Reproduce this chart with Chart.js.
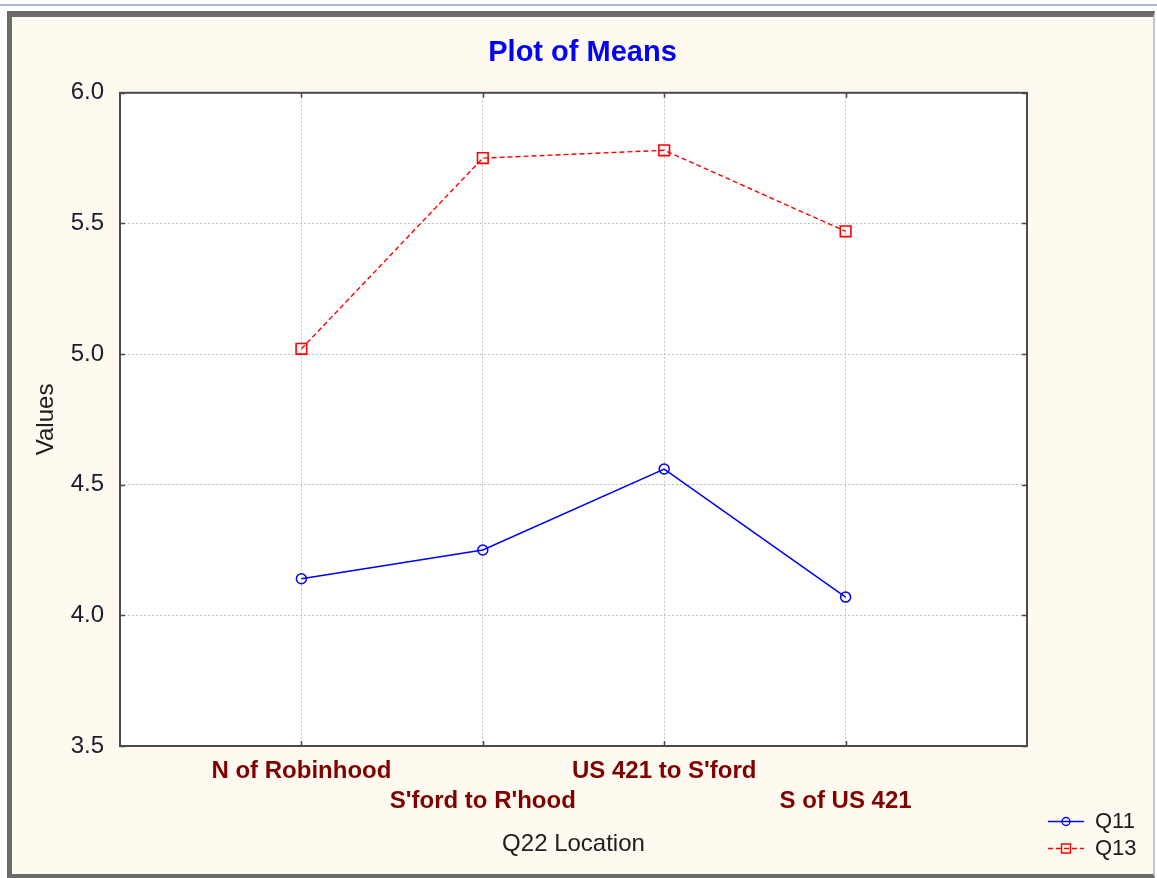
<!DOCTYPE html>
<html>
<head>
<meta charset="utf-8">
<title>Plot of Means</title>
<script src="https://cdn.jsdelivr.net/npm/chart.js@4.4.1/dist/chart.umd.min.js"></script>
<style>
  html, body { margin: 0; background: #fff; width: 1157px; height: 878px; overflow: hidden; }
  .topline { position: absolute; left: 0; top: 4px; width: 1157px; height: 2px; background: #a9b9d2; }
  .frame {
    position: absolute; left: 7px; top: 11px; width: 1141px; height: 857px;
    border-left: 5px solid #6b6b6b; border-top: 6px solid #6b6b6b;
    border-bottom: 4px solid #6b6b6b; border-right: 2px solid #c4c4c4;
    background: #fffaf0;
  }
  canvas { display: block; }
</style>
</head>
<body>
<div class="topline"></div>
<div class="frame"><canvas id="means" width="1141" height="857"></canvas></div>
<script>
// category labels and means per location
const locations = ['N of Robinhood', "S'ford to R'hood", "US 421 to S'ford", 'S of US 421'];
const q11Means = [4.14, 4.25, 4.56, 4.07];
const q13Means = [5.02, 5.75, 5.78, 5.47];
const yTicks = [3.5, 4.0, 4.5, 5.0, 5.5, 6.0];

const FONT = "'Liberation Sans', Arial, sans-serif";

// white plot box, dark frame and small inward tick marks
const plotFrame = {
  id: 'plotFrame',
  beforeDraw(chart) {
    const { ctx, chartArea: a } = chart;
    ctx.save();
    ctx.fillStyle = '#fff';
    ctx.fillRect(a.left, a.top, a.width, a.height);
    ctx.restore();
  },
  beforeDatasetsDraw(chart) {
    const { ctx, chartArea: a, scales: { x, y } } = chart;
    ctx.save();
    ctx.strokeStyle = '#4a4a4a';
    ctx.lineWidth = 2;
    ctx.strokeRect(a.left, a.top, a.width, a.height);
    ctx.lineWidth = 1.5;
    ctx.beginPath();
    x.ticks.forEach(t => {
      const px = Math.round(x.getPixelForValue(t.value)) + 0.5;
      ctx.moveTo(px, a.top); ctx.lineTo(px, a.top + 5);
      ctx.moveTo(px, a.bottom); ctx.lineTo(px, a.bottom - 5);
    });
    y.ticks.forEach(t => {
      const py = Math.round(y.getPixelForValue(t.value)) + 0.5;
      ctx.moveTo(a.left, py); ctx.lineTo(a.left + 5, py);
      ctx.moveTo(a.right, py); ctx.lineTo(a.right - 5, py);
    });
    ctx.stroke();
    ctx.restore();
  }
};

// legend stacked in the lower right corner: line sample + marker + name
const sideLegend = {
  id: 'sideLegend',
  afterDraw(chart) {
    const { ctx, chartArea: a } = chart;
    chart.data.datasets.forEach((ds, i) => {
      const y0 = a.bottom + 75 + i * 27;
      const x0 = a.right + 21, x1 = x0 + 36, xm = x0 + 18;
      ctx.save();
      ctx.strokeStyle = ds.borderColor;
      ctx.lineWidth = 1.4;
      ctx.setLineDash(ds.borderDash || []);
      ctx.beginPath();
      ctx.moveTo(x0, y0 + 0.5); ctx.lineTo(x1, y0 + 0.5);
      ctx.stroke();
      ctx.setLineDash([]);
      ctx.beginPath();
      if (ds.pointStyle === 'rect') ctx.rect(xm - 4.5, y0 - 4, 9, 9);
      else ctx.arc(xm, y0 + 0.5, 4, 0, Math.PI * 2);
      ctx.stroke();
      ctx.fillStyle = '#1a1a1a';
      ctx.font = '22px ' + FONT;
      ctx.textBaseline = 'middle';
      ctx.fillText(ds.label, a.right + 68, y0 + 1);
      ctx.restore();
    });
  }
};

const gridStyle = { color: '#c4c4c4', lineWidth: 1, drawTicks: false };
const toPoints = arr => arr.map((v, i) => ({ x: i, y: v }));

new Chart(document.getElementById('means'), {
  type: 'line',
  data: {
    datasets: [
      {
        label: 'Q11',
        data: toPoints(q11Means),
        borderColor: '#0000ff',
        borderWidth: 1.5,
        pointStyle: 'circle',
        pointRadius: 5,
        pointBorderWidth: 1.5,
        pointBorderColor: '#0000ff',
        pointBackgroundColor: 'rgba(0,0,0,0)'
      },
      {
        label: 'Q13',
        data: toPoints(q13Means),
        borderColor: '#ff0000',
        borderDash: [5, 3],
        borderWidth: 1.4,
        pointStyle: 'rect',
        pointRadius: 7.5,
        pointBorderWidth: 1.6,
        pointBorderColor: '#ff0000',
        pointBackgroundColor: 'rgba(0,0,0,0)'
      }
    ]
  },
  options: {
    responsive: false,
    animation: false,
    devicePixelRatio: 1,
    layout: { padding: 0 },
    plugins: {
      legend: { display: false },
      tooltip: { enabled: false },
      title: {
        display: true,
        text: 'Plot of Means',
        color: '#0000ff',
        font: { family: FONT, size: 29, weight: 'bold' },
        padding: { top: 19, bottom: 22 }
      }
    },
    scales: {
      x: {
        type: 'linear',
        min: -1,
        max: 4,
        afterBuildTicks(s) { s.ticks = locations.map((_, i) => ({ value: i })); },
        afterFit(s) { s.height = 128; },
        grid: gridStyle,
        border: { display: false, dash: [2, 2] },
        ticks: {
          padding: 10,
          autoSkip: false,
          maxRotation: 0,
          color: '#800000',
          font: { family: FONT, size: 24, weight: 'bold', lineHeight: '30px' },
          // every second label drops to a second row
          callback: (v, i) => (i % 2 ? ['', locations[v]] : locations[v])
        },
        title: {
          display: true,
          text: 'Q22 Location',
          color: '#202020',
          font: { family: FONT, size: 24 },
          padding: { top: 0, bottom: 15.6 }
        }
      },
      y: {
        min: 3.5,
        max: 6,
        afterBuildTicks(s) { s.ticks = yTicks.map(v => ({ value: v })); },
        afterFit(s) { s.width = 108; },
        grid: gridStyle,
        border: { display: false, dash: [2, 2] },
        ticks: {
          padding: 16,
          color: '#1c1c2c',
          font: { family: FONT, size: 24 },
          callback: v => v.toFixed(1)
        },
        title: {
          display: true,
          text: 'Values',
          color: '#202020',
          font: { family: FONT, size: 24 },
          padding: { top: 20, bottom: 0 }
        }
      },
      // empty right-hand strip that holds the legend
      pad: {
        type: 'linear',
        position: 'right',
        display: true,
        grid: { display: false },
        border: { display: false },
        ticks: { display: false },
        afterFit(s) { s.width = 126; }
      }
    }
  },
  plugins: [plotFrame, sideLegend]
});
</script>
</body>
</html>
